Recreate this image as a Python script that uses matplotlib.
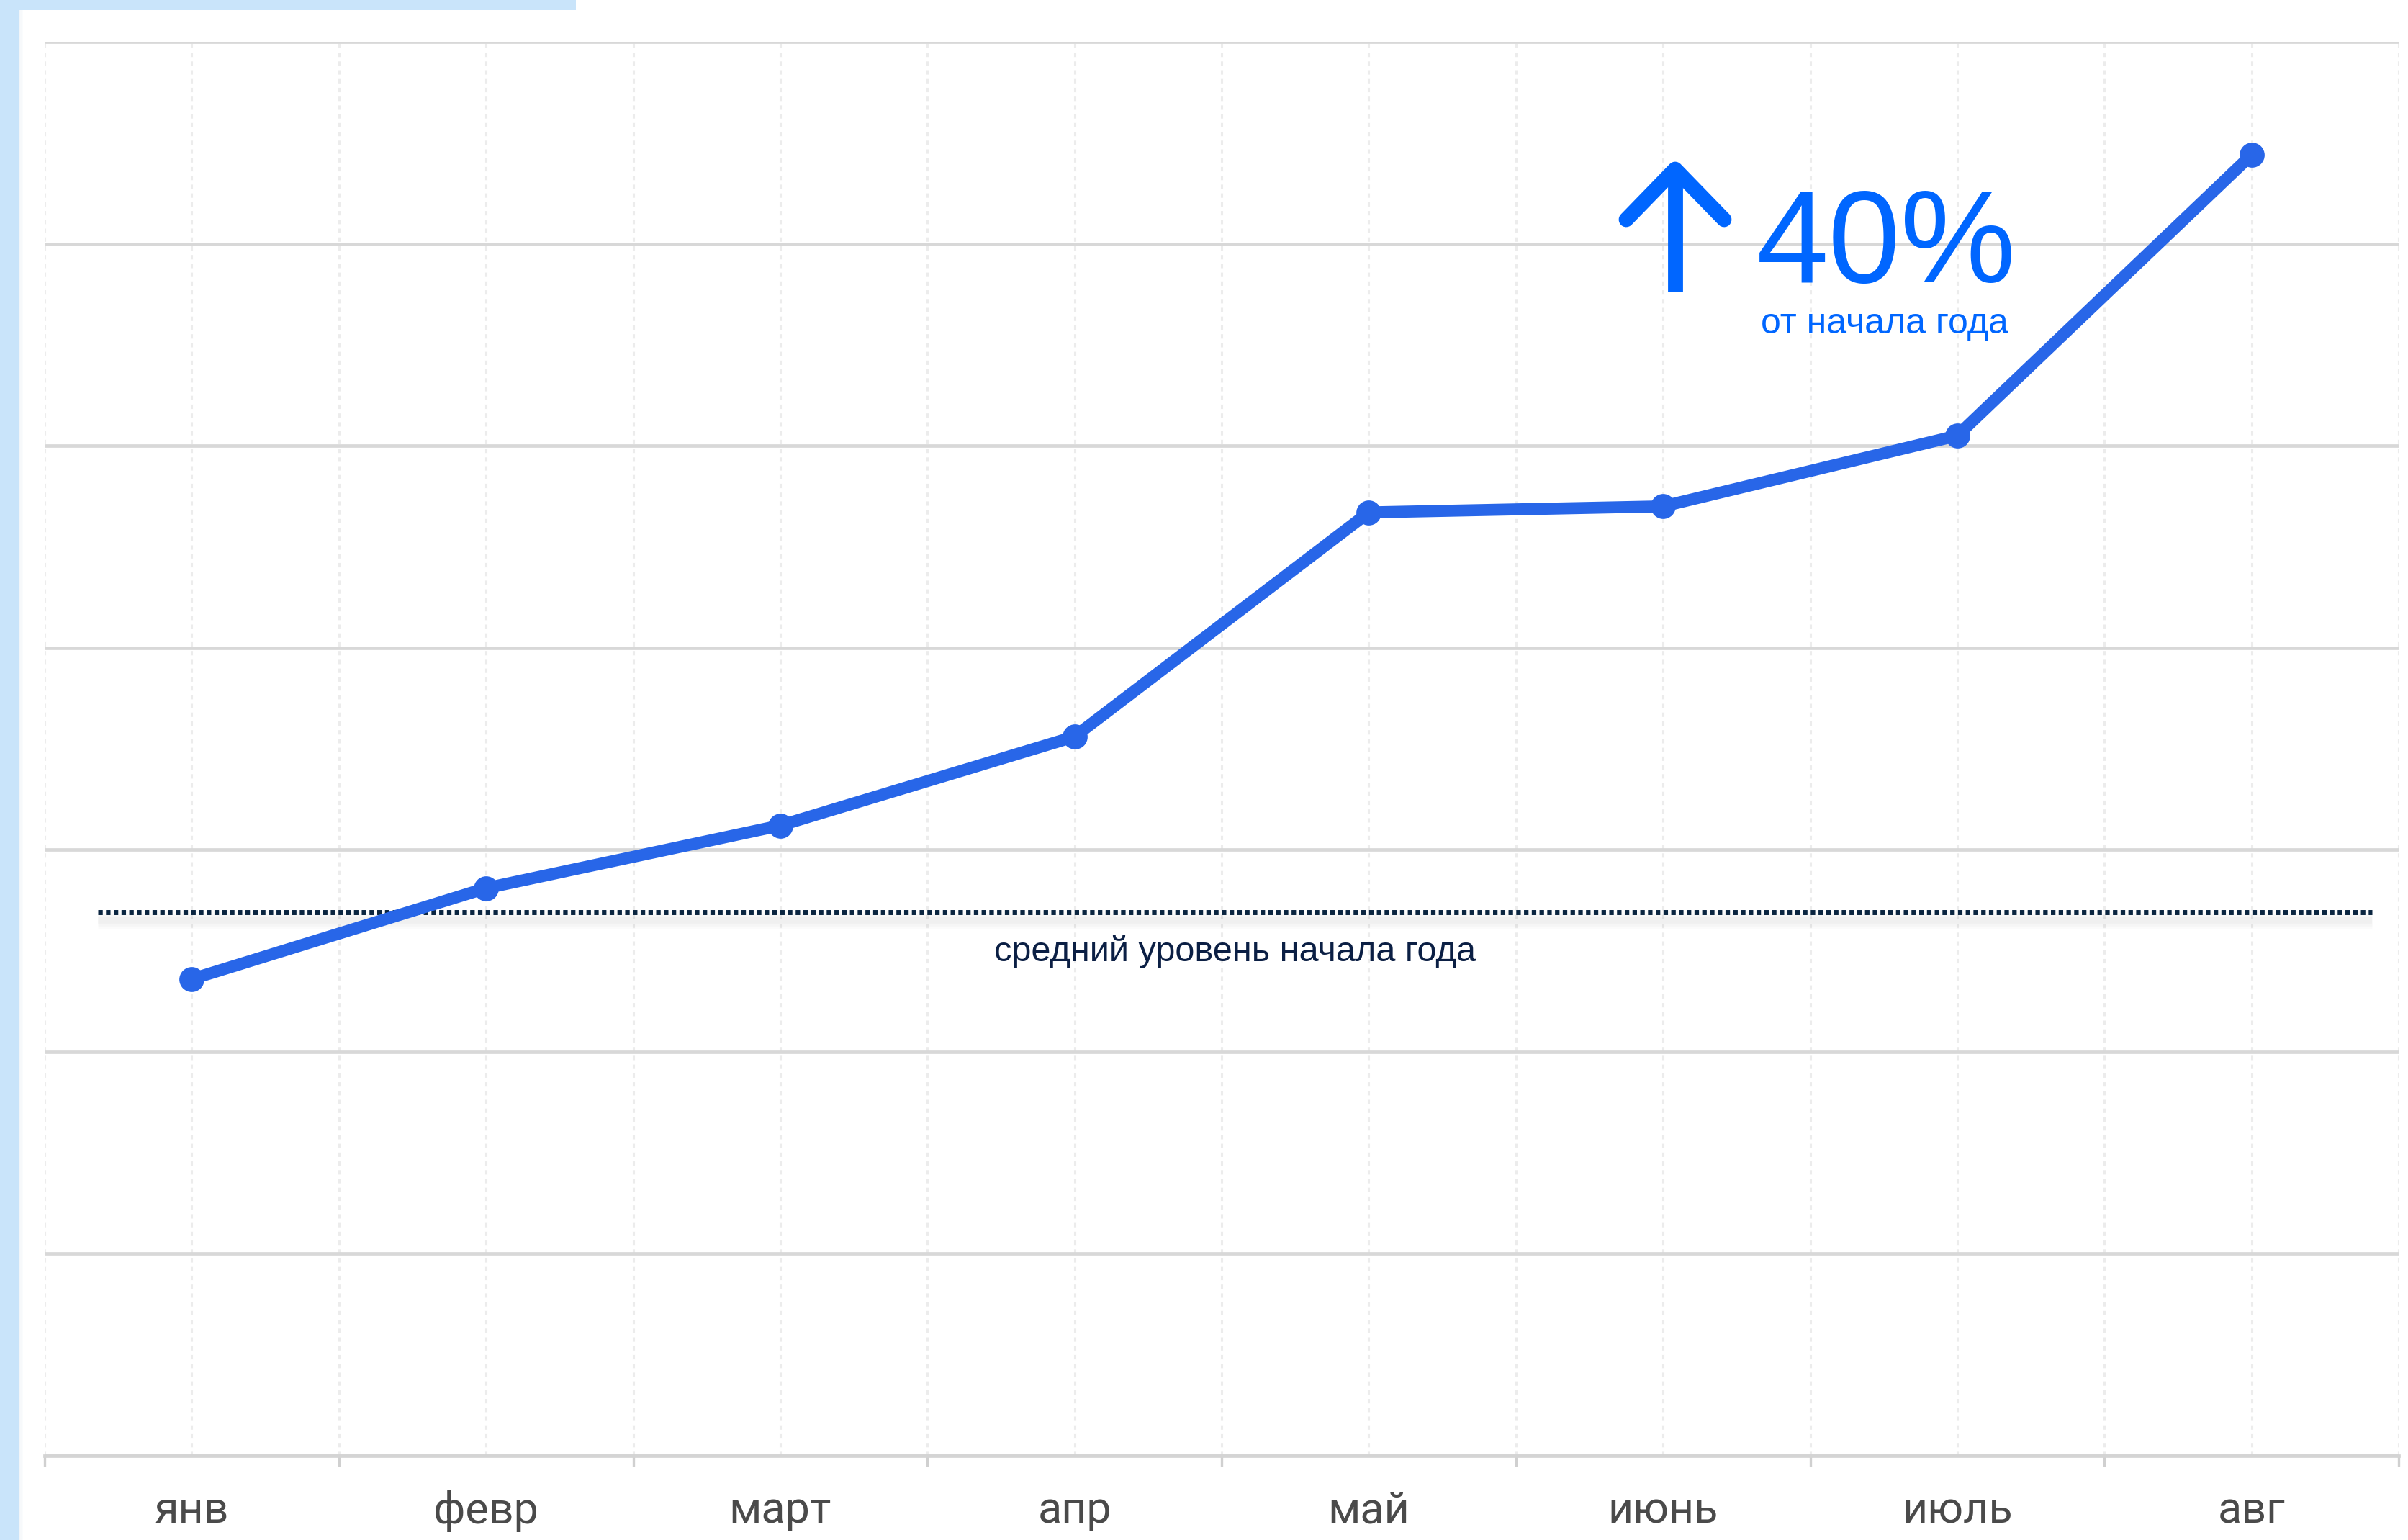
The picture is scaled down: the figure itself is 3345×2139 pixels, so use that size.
import matplotlib.pyplot as plt
from matplotlib.lines import Line2D
from matplotlib.patches import Rectangle
from matplotlib.transforms import offset_copy
import numpy as np

months = ['янв', 'февр', 'март', 'апр', 'май', 'июнь', 'июль', 'авг']
values = [23.6, 28.1, 31.2, 35.6, 46.7, 47.0, 50.5, 64.4]
start_level = 26.9
start_label = 'средний уровень начала года'
growth_text = '40%'
growth_sub = 'от начала года'

W, H, DPI = 3345, 2139, 200
fig = plt.figure(figsize=(W / DPI, H / DPI), dpi=DPI)
fig.patch.set_facecolor('white')


def fx(px):
    return px / W


def fy(py):
    return 1 - py / H


sans = ['Liberation Sans', 'DejaVu Sans']

# light blue frame pieces, with a faint shadow on the card edge
fig.patches.append(Rectangle((0, 0), fx(26), 1, transform=fig.transFigure,
                             facecolor='#c9e4fa', edgecolor='none', zorder=0))
for i, a in enumerate([0.10, 0.06, 0.03]):
    fig.patches.append(Rectangle((fx(26 + 2 * i), 0), fx(2), fy(14), transform=fig.transFigure,
                                 facecolor='#7fa6c8', alpha=a, edgecolor='none', zorder=0))
fig.patches.append(Rectangle((0, fy(14)), fx(800), 14 / H, transform=fig.transFigure,
                             facecolor='#c9e4fa', edgecolor='none', zorder=0))

ax = fig.add_axes([fx(62), 1 - 2022 / H, fx(3332) - fx(62), (2022 - 58) / H])
x = np.arange(len(months))

ax.set_xlim(-0.5, len(months) - 0.5)
ax.set_ylim(0, 70)
ax.set_yticks(np.arange(0, 71, 10))
ax.set_xticks(x)
ax.set_xticklabels(months, fontsize=22, color='#4a4a4a', family=['Roboto', 'DejaVu Sans'])
ax.set_xticks(np.arange(-0.5, len(months), 1), minor=True)
ax.tick_params(axis='x', which='major', length=0, pad=17)
ax.tick_params(axis='x', which='minor', length=5.5, width=1.2, color='#d0d0d0')
ax.tick_params(axis='y', length=0, labelleft=False)

ax.set_axisbelow(True)
ax.grid(True, axis='y', color='#d8d8d8', linewidth=1.7)
ax.grid(True, axis='x', which='both', color='#ececec', linewidth=1.1, linestyle=(0, (2, 2)))
for s in ['left', 'right', 'top']:
    ax.spines[s].set_visible(False)
ax.spines['bottom'].set_color('#d4d4d4')
ax.spines['bottom'].set_linewidth(1.7)

# start-of-year level with soft shadow
x0, x1 = -0.32, 7.41
shadow = offset_copy(ax.transData, fig=fig, y=-4, units='points')
for lw, a in [(9, 0.015), (6, 0.02), (3.5, 0.025)]:
    ax.plot([x0, x1], [start_level, start_level], color='black', alpha=a,
            linewidth=lw, transform=shadow, solid_capstyle='butt', zorder=2)
ax.plot([x0, x1], [start_level, start_level], color='#0a2540', linewidth=2.5,
        linestyle=(0, (0.9, 0.65)), dash_capstyle='butt', zorder=3)
ax.text((x0 + x1) / 2, start_level - 2.4, start_label, ha='center', va='baseline',
        fontsize=17.5, color='#0b1f44', family=sans)

ax.plot(x, values, color='#2866e8', linewidth=6, marker='o', markersize=11.5,
        solid_capstyle='round', zorder=4)

# growth annotation
blue = '#0066ff'
fig.add_artist(Line2D([fx(2327), fx(2327)], [fy(405), fy(245)], transform=fig.transFigure,
                      color=blue, linewidth=7.5, solid_capstyle='butt'))
fig.add_artist(Line2D([fx(2259), fx(2327), fx(2395)], [fy(305), fy(235), fy(305)],
                      transform=fig.transFigure, color=blue, linewidth=7.5,
                      solid_capstyle='round', solid_joinstyle='round'))
fig.text(fx(2440), fy(392), growth_text, ha='left', va='baseline', fontsize=65,
         color=blue, family=sans)
fig.text(fx(2618), fy(463), growth_sub, ha='center', va='baseline', fontsize=18,
         color=blue, family=sans)

fig.savefig('out.png', dpi=DPI)
